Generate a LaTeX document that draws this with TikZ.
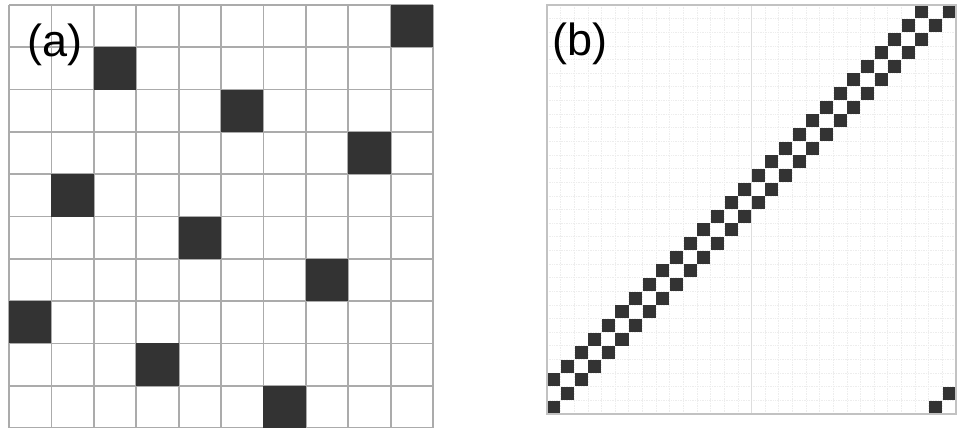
\documentclass[tikz,border=0pt]{standalone}
\usepackage{fontspec}
\setmainfont{Liberation Sans}
\definecolor{cellfill}{HTML}{333333}
\definecolor{gridA}{HTML}{ABABAB}
\definecolor{gridB}{HTML}{EDEDED}
\definecolor{midB}{HTML}{DDDDDD}
\definecolor{frameB}{HTML}{C2C2C2}
\tikzset{
  gridlineA/.style={draw=gridA, line width=1.8pt},
  gridlineB/.style={draw=gridB, line width=0.7pt, densely dotted},
  darkcell/.style={fill=cellfill},
  panellabel/.style={font=\fontsize{45}{50}\selectfont, anchor=base west, inner sep=0pt}
}
\begin{document}
\begin{tikzpicture}[x=1pt,y=-1pt]
\useasboundingbox (0,0) rectangle (959,428);
\fill[white] (0,0) rectangle (959,428);
% ---------- panel (a) ----------
\foreach \i in {0,...,10} {
  \draw[gridlineA] ({9+42.4*\i},5) -- ({9+42.4*\i},428);
  \draw[gridlineA] (9,{5+42.3*\i}) -- (433,{5+42.3*\i});
}
\foreach \r in {0,...,9} {
  \pgfmathtruncatemacro\c{mod(3*\r+9,10)}
  \fill[darkcell] ({9+42.4*\c},{5+42.3*\r}) rectangle +(42.4,42.3);
}
\node[panellabel] (la) at (27,57) {(a)};
% ---------- panel (b) ----------
\pgfmathsetmacro\s{409/30}
\foreach \i in {1,...,29} {
  \draw[gridlineB] ({547+\s*\i},5) -- ({547+\s*\i},414);
  \draw[gridlineB] (547,{5+\s*\i}) -- (956,{5+\s*\i});
}
\draw[draw=midB, line width=0.8pt] ({547+\s*15},5) -- ({547+\s*15},414);
\foreach \r in {0,...,29} {
  \pgfmathtruncatemacro\c{mod(\r+28,30)}
  \fill[darkcell] ({547+\s*\r+0.3},{414-(\r+1)*\s+0.3}) rectangle +({\s-0.6},{\s-0.6});
  \fill[darkcell] ({547+\s*\c+0.3},{414-(\r+1)*\s+0.3}) rectangle +({\s-0.6},{\s-0.6});
}
\draw[draw=frameB, line width=1.8pt] (547,5) rectangle (956,414);
\node[panellabel] (lb) at (552,56) {(b)};
\end{tikzpicture}
\end{document}
